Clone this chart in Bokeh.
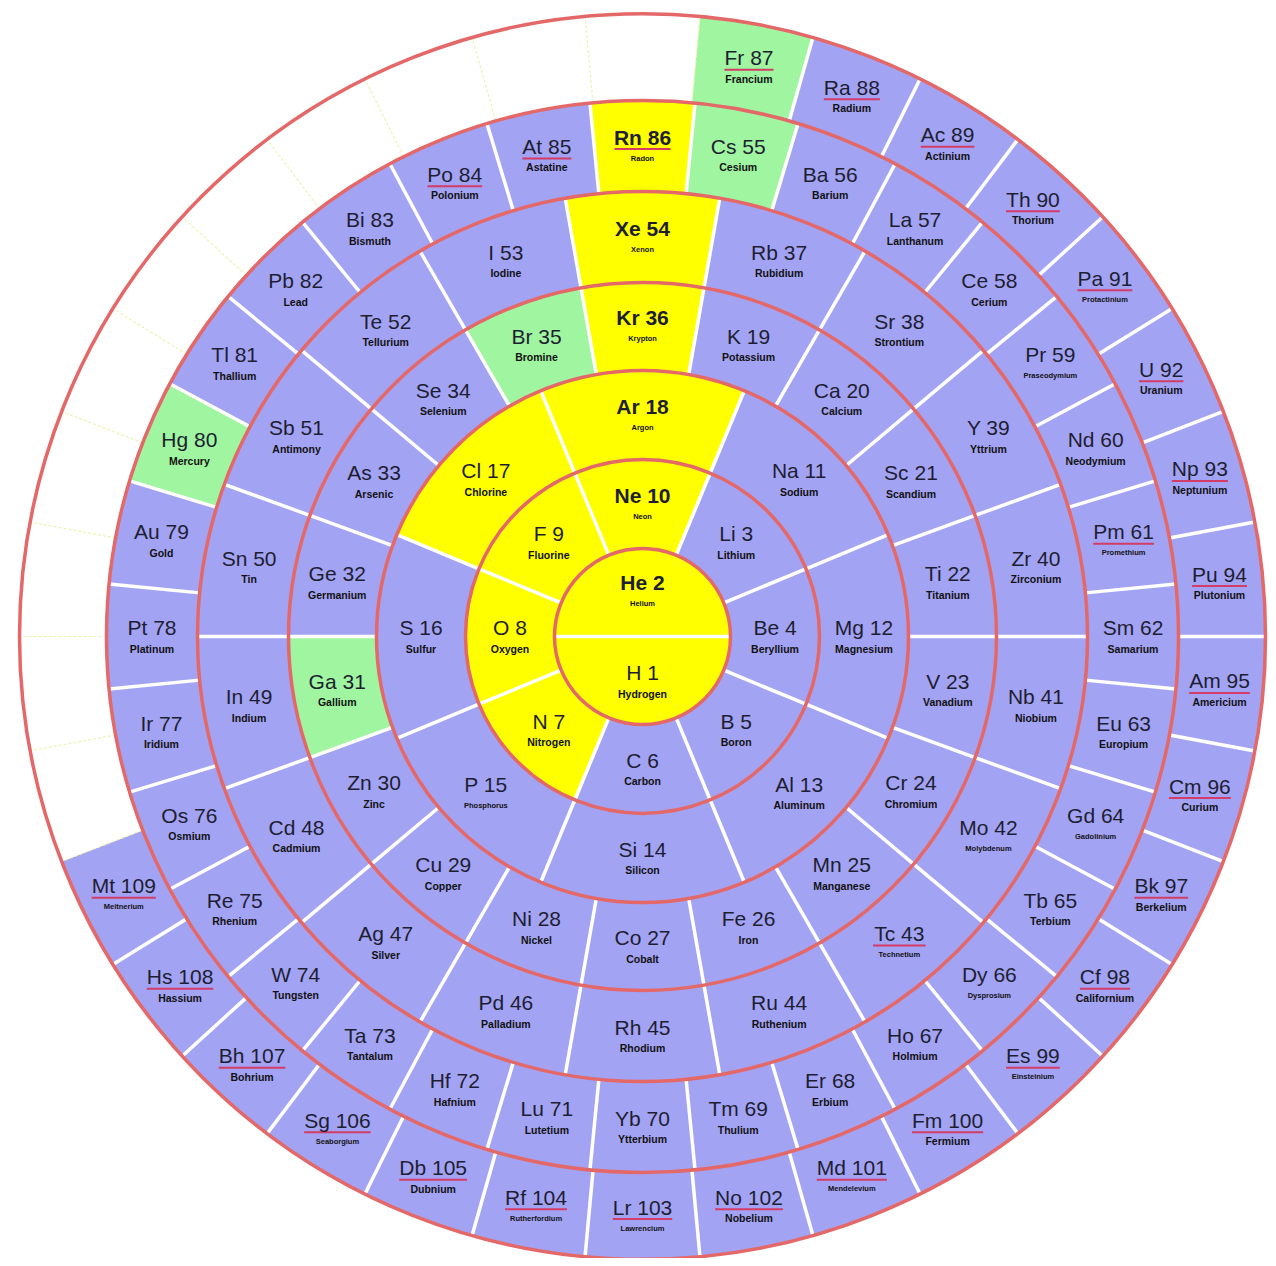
import math
from bokeh.plotting import figure
from bokeh.models import Range1d, ColumnDataSource
from bokeh.embed import file_html
from bokeh.resources import INLINE
from bokeh.core.properties import value

# ---------------- data ----------------
symbols = ["H", "He", "Li", "Be", "B", "C", "N", "O", "F", "Ne",
           "Na", "Mg", "Al", "Si", "P", "S", "Cl", "Ar",
           "K", "Ca", "Sc", "Ti", "V", "Cr", "Mn", "Fe", "Co", "Ni", "Cu", "Zn", "Ga", "Ge", "As", "Se", "Br", "Kr",
           "Rb", "Sr", "Y", "Zr", "Nb", "Mo", "Tc", "Ru", "Rh", "Pd", "Ag", "Cd", "In", "Sn", "Sb", "Te", "I", "Xe",
           "Cs", "Ba", "La", "Ce", "Pr", "Nd", "Pm", "Sm", "Eu", "Gd", "Tb", "Dy", "Ho", "Er", "Tm", "Yb", "Lu",
           "Hf", "Ta", "W", "Re", "Os", "Ir", "Pt", "Au", "Hg", "Tl", "Pb", "Bi", "Po", "At", "Rn",
           "Fr", "Ra", "Ac", "Th", "Pa", "U", "Np", "Pu", "Am", "Cm", "Bk", "Cf", "Es", "Fm", "Md", "No", "Lr",
           "Rf", "Db", "Sg", "Bh", "Hs", "Mt"]
names = ["Hydrogen", "Helium", "Lithium", "Beryllium", "Boron", "Carbon", "Nitrogen", "Oxygen", "Fluorine", "Neon",
         "Sodium", "Magnesium", "Aluminum", "Silicon", "Phosphorus", "Sulfur", "Chlorine", "Argon",
         "Potassium", "Calcium", "Scandium", "Titanium", "Vanadium", "Chromium", "Manganese", "Iron", "Cobalt",
         "Nickel", "Copper", "Zinc", "Gallium", "Germanium", "Arsenic", "Selenium", "Bromine", "Krypton",
         "Rubidium", "Strontium", "Yttrium", "Zirconium", "Niobium", "Molybdenum", "Technetium", "Ruthenium",
         "Rhodium", "Palladium", "Silver", "Cadmium", "Indium", "Tin", "Antimony", "Tellurium", "Iodine", "Xenon",
         "Cesium", "Barium", "Lanthanum", "Cerium", "Praseodymium", "Neodymium", "Promethium", "Samarium",
         "Europium", "Gadolinium", "Terbium", "Dysprosium", "Holmium", "Erbium", "Thulium", "Ytterbium",
         "Lutetium", "Hafnium", "Tantalum", "Tungsten", "Rhenium", "Osmium", "Iridium", "Platinum", "Gold",
         "Mercury", "Thallium", "Lead", "Bismuth", "Polonium", "Astatine", "Radon",
         "Francium", "Radium", "Actinium", "Thorium", "Protactinium", "Uranium", "Neptunium", "Plutonium",
         "Americium", "Curium", "Berkelium", "Californium", "Einsteinium", "Fermium", "Mendelevium", "Nobelium",
         "Lawrencium", "Rutherfordium", "Dubnium", "Seaborgium", "Bohrium", "Hassium", "Meitnerium"]
ring_first = [1, 3, 11, 19, 37, 55, 87]
ring_last = [2, 10, 18, 36, 54, 86, 120]
gases = [1, 2, 7, 8, 9, 10, 17, 18, 36, 54, 86]
liquids = [31, 35, 55, 80, 87]
noble = [2, 10, 18, 36, 54, 86]
radioactive = [43, 61, 84, 85, 86, 87, 88, 89, 90, 91, 92, 93, 94, 95, 96, 97, 98, 99, 100,
               101, 102, 103, 104, 105, 106, 107, 108, 109]

# ---------------- style ----------------
RADII = [0, 88, 177, 266, 354, 445, 536, 623]
C_SOLID = "#A3A3F3"
C_GAS = "#FFFF00"
C_LIQ = "#A0F5A0"
C_NONE = "#FFFFFF"
C_RING = "#E46868"
C_TEXT = "#1E1E32"
C_ULINE = "#D23C66"
small_names = [2, 10, 18, 36, 54, 86, 15, 42, 43, 59, 61, 64, 66, 91, 99, 101, 103, 104, 106, 109]

ARIAL = {" ": 278, "0": 556, "1": 556, "2": 556, "3": 556, "4": 556, "5": 556, "6": 556, "7": 556,
         "8": 556, "9": 556, "A": 667, "B": 667, "C": 722, "D": 722, "E": 667, "F": 611, "G": 778,
         "H": 722, "I": 278, "J": 500, "K": 667, "L": 556, "M": 833, "N": 722, "O": 778, "P": 667,
         "Q": 778, "R": 722, "S": 667, "T": 611, "U": 722, "V": 667, "W": 944, "X": 667, "Y": 667,
         "Z": 611, "a": 556, "b": 556, "c": 500, "d": 556, "e": 556, "f": 278, "g": 556, "h": 556,
         "i": 222, "j": 222, "k": 500, "l": 222, "m": 833, "n": 556, "o": 556, "p": 556, "q": 556,
         "r": 333, "s": 500, "t": 278, "u": 556, "v": 500, "w": 722, "x": 500, "y": 500, "z": 500}
SYM_SIZE = 21


def ring_of(z):
    for k in range(7):
        if ring_first[k] <= z <= ring_last[k]:
            return k
    return None


def color_of(z):
    if z > len(symbols):
        return C_NONE
    if z in gases:
        return C_GAS
    if z in liquids:
        return C_LIQ
    return C_SOLID


def angle_of(z):
    k = ring_of(z)
    n = ring_last[k] - ring_first[k] + 1
    i = z - ring_first[k]
    step = 2 * math.pi / n
    return math.pi / 2 - step * (i + 1), step


p = figure(width=1268, height=1258, x_range=Range1d(-642, 626), y_range=Range1d(-622, 636),
           output_backend="svg", toolbar_location=None, min_border=0,
           x_axis_type=None, y_axis_type=None)
p.grid.visible = False
p.outline_line_color = None
p.background_fill_color = "white"

# ---------- cells ----------
w = dict(x=[], y=[], ri=[], ro=[], sa=[], ea=[], c=[])
for z in range(1, 121):
    k = ring_of(z)
    a, step = angle_of(z)
    w["x"].append(0)
    w["y"].append(0)
    w["ri"].append(RADII[k])
    w["ro"].append(RADII[k + 1])
    w["sa"].append(a - step / 2)
    w["ea"].append(a + step / 2)
    w["c"].append(color_of(z))
p.annular_wedge(x="x", y="y", inner_radius="ri", outer_radius="ro", start_angle="sa", end_angle="ea",
                fill_color="c", line_color=None, source=ColumnDataSource(w))

# ---------- radial separators ----------
sw = dict(x0=[], y0=[], x1=[], y1=[])
sp = dict(x0=[], y0=[], x1=[], y1=[])
for k in range(7):
    for z in range(ring_first[k], ring_last[k] + 1):
        a, step = angle_of(z)
        b = a - step / 2
        znext = z + 1 if z < ring_last[k] else ring_first[k]
        ri = RADII[k]
        ro = RADII[k + 1]
        tgt = sw
        if color_of(z) == C_NONE or color_of(znext) == C_NONE:
            tgt = sp
        if k == 0:
            if z != 1:
                continue
            tgt["x0"].append(-RADII[1]); tgt["y0"].append(0)
            tgt["x1"].append(RADII[1]); tgt["y1"].append(0)
            continue
        tgt["x0"].append(ri * math.cos(b)); tgt["y0"].append(ri * math.sin(b))
        tgt["x1"].append(ro * math.cos(b)); tgt["y1"].append(ro * math.sin(b))
p.segment(x0="x0", y0="y0", x1="x1", y1="y1", line_color="white", line_width=3.5,
          source=ColumnDataSource(sw))
p.segment(x0="x0", y0="y0", x1="x1", y1="y1", line_color="#EEF2B0", line_width=1.2, line_dash="3 2",
          source=ColumnDataSource(sp))

# ---------- ring circles ----------
p.circle(x=[0] * 7, y=[0] * 7, radius=RADII[1:], fill_color=None, line_color=C_RING, line_width=3.5)

# ---------- labels ----------
lab = dict(x=[], y=[], t=[], st=[])
nm = dict(x=[], y=[], t=[], fs=[])
ul = dict(x0=[], x1=[], y=[])
for z in range(1, len(symbols) + 1):
    k = ring_of(z)
    a, step = angle_of(z)
    rc = (RADII[k] + RADII[k + 1]) / 2 if k > 0 else 45
    cx, cy = rc * math.cos(a), rc * math.sin(a)
    txt = "%s %d" % (symbols[z - 1], z)
    lab["x"].append(cx); lab["y"].append(cy + 9); lab["t"].append(txt)
    lab["st"].append("bold" if z in noble else "normal")
    nm["x"].append(cx); nm["y"].append(cy - 12); nm["t"].append(names[z - 1])
    nm["fs"].append("7.5px" if z in small_names else "10.5px")
    if z in radioactive:
        wd = sum(ARIAL.get(ch, 556) for ch in txt) * SYM_SIZE / 1000.0
        ul["x0"].append(cx - wd / 2); ul["x1"].append(cx + wd / 2); ul["y"].append(cy - 3)

p.segment(x0="x0", y0="y", x1="x1", y1="y", line_color=C_ULINE, line_width=2, source=ColumnDataSource(ul))
p.text(x="x", y="y", text="t", text_font=value("Liberation Sans"), text_font_size="%dpx" % SYM_SIZE,
       text_font_style="st", text_align="center", text_baseline="middle", text_color=C_TEXT,
       source=ColumnDataSource(lab))
p.text(x="x", y="y", text="t", text_font=value("Liberation Sans"), text_font_size="fs",
       text_font_style="bold", text_align="center", text_baseline="middle", text_color="#111111",
       source=ColumnDataSource(nm))

open("out.html", "w").write(file_html(p, INLINE))
